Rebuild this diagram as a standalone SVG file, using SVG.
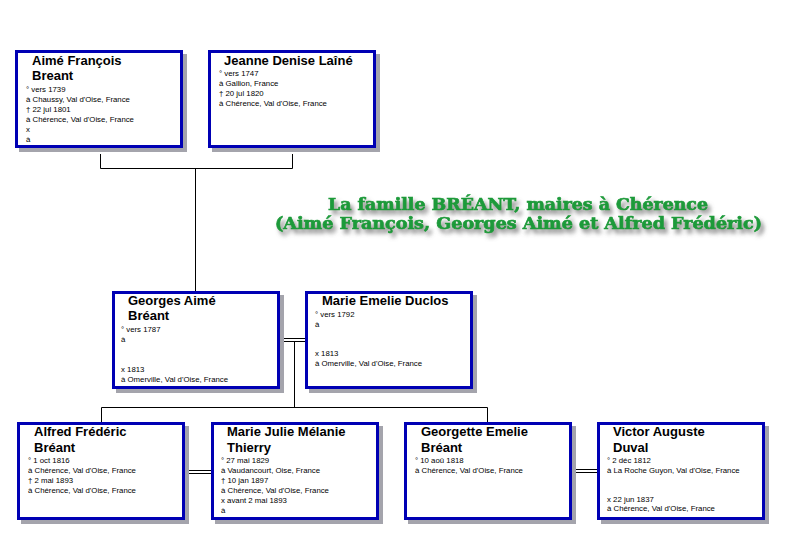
<svg xmlns="http://www.w3.org/2000/svg" width="789" height="545" viewBox="0 0 789 545">
<style>
.sh{fill:#a4a4ac}
.bx{fill:#ffffff;stroke:#0000b4;stroke-width:3}
.nm{font-family:"Liberation Sans",Arial,sans-serif;font-weight:bold;font-size:13px;fill:#000}
.dt{font-family:"Liberation Sans",Arial,sans-serif;font-size:7.8px;fill:#000}
.ln{fill:none;stroke:#000;stroke-width:1}
.tt{font-family:"DejaVu Serif",serif;font-weight:bold;font-size:16.5px;fill:#1c9a3a;stroke:#1c9a3a;stroke-width:0.7}
</style>
<defs>
<filter id="tsh" x="-5%" y="-40%" width="110%" height="180%">
<feOffset in="SourceAlpha" dx="3" dy="4" result="o"/>
<feGaussianBlur in="o" stdDeviation="2" result="b"/>
<feFlood flood-color="#6a6a6a" flood-opacity="0.8"/>
<feComposite in2="b" operator="in" result="s"/>
<feMerge><feMergeNode in="s"/><feMergeNode in="SourceGraphic"/></feMerge>
</filter>
</defs>
<rect width="789" height="545" fill="#ffffff"/>

<g id="connectors">
<polyline class="ln" points="100.5,154 100.5,168.5 292.5,168.5 292.5,154"/>
<line class="ln" x1="195.5" y1="168.5" x2="195.5" y2="291"/>
<line class="ln" x1="279" y1="338.5" x2="305" y2="338.5"/>
<line class="ln" x1="279" y1="341.5" x2="305" y2="341.5"/>
<line class="ln" x1="294.5" y1="341.5" x2="294.5" y2="407.5"/>
<polyline class="ln" points="101.5,422 101.5,407.5 487.5,407.5 487.5,422"/>
<line class="ln" x1="185" y1="470.5" x2="211" y2="470.5"/>
<line class="ln" x1="185" y1="473.5" x2="211" y2="473.5"/>
<line class="ln" x1="572" y1="469.5" x2="597" y2="469.5"/>
<line class="ln" x1="572" y1="472.5" x2="597" y2="472.5"/>
</g>

<g id="n1">
<rect class="sh" x="19" y="54" width="168" height="98"/>
<rect class="bx" x="16.5" y="51.5" width="165" height="95"/>
<text class="nm"><tspan x="32" y="64.5">Aimé François</tspan><tspan x="32" y="79.5">Breant</tspan></text>
<text class="dt"><tspan x="26" y="91.5">° vers 1739</tspan><tspan x="26" y="101.5">à Chaussy, Val d'Oise, France</tspan><tspan x="26" y="111.5">† 22 jul 1801</tspan><tspan x="26" y="121.5">à Chérence, Val d'Oise, France</tspan><tspan x="26" y="131.5">x</tspan><tspan x="26" y="141.5">à</tspan></text>
</g>

<g id="n2">
<rect class="sh" x="212" y="54" width="168" height="98"/>
<rect class="bx" x="209.5" y="51.5" width="165" height="95"/>
<text class="nm"><tspan x="224" y="64.5">Jeanne Denise Laîné</tspan></text>
<text class="dt"><tspan x="219" y="76">° vers 1747</tspan><tspan x="219" y="86">à Gallion, France</tspan><tspan x="219" y="96">† 20 jul 1820</tspan><tspan x="219" y="106">à Chérence, Val d'Oise, France</tspan></text>
</g>

<g id="n3">
<rect class="sh" x="116" y="295" width="168" height="98"/>
<rect class="bx" x="113.5" y="292.5" width="165" height="95"/>
<text class="nm"><tspan x="128" y="305">Georges Aimé</tspan><tspan x="128" y="320">Bréant</tspan></text>
<text class="dt"><tspan x="121" y="332">° vers 1787</tspan><tspan x="121" y="342">à</tspan><tspan x="121" y="371.5">x 1813</tspan><tspan x="121" y="381.5">à Omerville, Val d'Oise, France</tspan></text>
</g>

<g id="n4">
<rect class="sh" x="309" y="295" width="168" height="98"/>
<rect class="bx" x="306.5" y="292.5" width="165" height="95"/>
<text class="nm"><tspan x="322" y="305">Marie Emelie Duclos</tspan></text>
<text class="dt"><tspan x="315" y="316.5">° vers 1792</tspan><tspan x="315" y="326.5">à</tspan><tspan x="315" y="356">x 1813</tspan><tspan x="315" y="366">à Omerville, Val d'Oise, France</tspan></text>
</g>

<g id="n5">
<rect class="sh" x="21" y="426" width="168" height="98"/>
<rect class="bx" x="18.5" y="423.5" width="165" height="95"/>
<text class="nm"><tspan x="34" y="436">Alfred Frédéric</tspan><tspan x="34" y="451.5">Bréant</tspan></text>
<text class="dt"><tspan x="28" y="463">° 1 oct 1816</tspan><tspan x="28" y="473">à Chérence, Val d'Oise, France</tspan><tspan x="28" y="483">† 2 mai 1893</tspan><tspan x="28" y="493">à Chérence, Val d'Oise, France</tspan></text>
</g>

<g id="n6">
<rect class="sh" x="215" y="426" width="168" height="98"/>
<rect class="bx" x="212.5" y="423.5" width="165" height="95"/>
<text class="nm"><tspan x="227" y="436">Marie Julie Mélanie</tspan><tspan x="227" y="451.5">Thierry</tspan></text>
<text class="dt"><tspan x="221" y="463">° 27 mai 1829</tspan><tspan x="221" y="473">à Vaudancourt, Oise, France</tspan><tspan x="221" y="483">† 10 jan 1897</tspan><tspan x="221" y="493">à Chérence, Val d'Oise, France</tspan><tspan x="221" y="503">x avant 2 mai 1893</tspan><tspan x="221" y="513">à</tspan></text>
</g>

<g id="n7">
<rect class="sh" x="408" y="426" width="168" height="98"/>
<rect class="bx" x="405.5" y="423.5" width="165" height="95"/>
<text class="nm"><tspan x="421" y="436">Georgette Emelie</tspan><tspan x="421" y="451.5">Bréant</tspan></text>
<text class="dt"><tspan x="415" y="463">° 10 aoû 1818</tspan><tspan x="415" y="473">à Chérence, Val d'Oise, France</tspan></text>
</g>

<g id="n8">
<rect class="sh" x="601" y="426" width="168" height="98"/>
<rect class="bx" x="598.5" y="423.5" width="165" height="95"/>
<text class="nm"><tspan x="613" y="436">Victor Auguste</tspan><tspan x="613" y="451.5">Duval</tspan></text>
<text class="dt"><tspan x="607" y="463">° 2 déc 1812</tspan><tspan x="607" y="472.5">à La Roche Guyon, Val d'Oise, France</tspan><tspan x="607" y="501.5">x 22 jun 1837</tspan><tspan x="607" y="511">à Chérence, Val d'Oise, France</tspan></text>
</g>

<g id="title" filter="url(#tsh)">
<text class="tt" x="328" y="210" textLength="380" lengthAdjust="spacingAndGlyphs">La famille BRÉANT, maires à Chérence</text>
<text class="tt" x="275" y="229" textLength="487" lengthAdjust="spacingAndGlyphs">(Aimé François, Georges Aimé et Alfred Frédéric)</text>
</g>
</svg>
